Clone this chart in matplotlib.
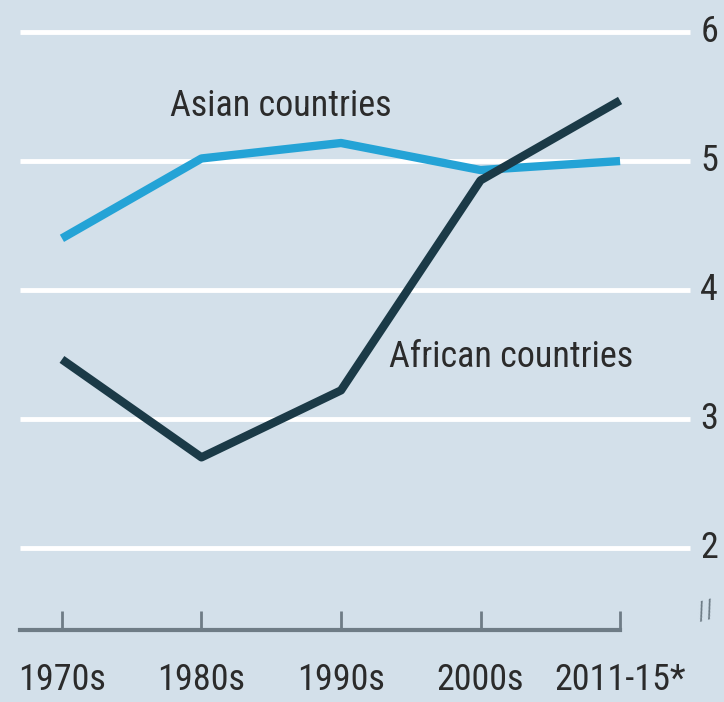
import matplotlib
matplotlib.use("Agg")
import matplotlib.pyplot as plt
import numpy as np

# Values
periods = ["1970s", "1980s", "1990s", "2000s", "2011-15*"]
asian = [4.40, 5.02, 5.14, 4.93, 5.00]
african = [3.46, 2.70, 3.22, 4.85, 5.47]
y_ticks = [2, 3, 4, 5, 6]

BG = "#d3e0ea"
ASIAN_C = "#24a3d6"
AFRICA_C = "#1b3a47"
TEXT_C = "#2b2b2b"
AXIS_C = "#6e7c86"
FONT = ["Roboto Condensed", "DejaVu Sans"]

plt.rcParams["font.family"] = FONT

fig = plt.figure(figsize=(7.24, 7.02), dpi=100, facecolor=BG)
ax = fig.add_axes([0, 0.1026, 1, 0.8974])
ax.set_facecolor(BG)

x = np.arange(len(periods))
ax.set_xlim(-0.444, 4.745)
ax.set_ylim(1.36, 6.25)

# white gridlines + right-hand labels
ax.hlines(y_ticks, -0.30, 4.50, color="white", linewidth=3.5, zorder=1)
for v in y_ticks:
    ax.text(4.64, v, str(v), ha="center", va="center", fontsize=26,
            color=TEXT_C)

ax.plot(x, asian, color=ASIAN_C, linewidth=6, solid_capstyle="butt", zorder=3)
ax.plot(x, african, color=AFRICA_C, linewidth=6, solid_capstyle="butt", zorder=4)

ax.text(1.57, 5.43, "Asian countries", ha="center", va="center",
        fontsize=26, color=TEXT_C)
ax.text(3.22, 3.48, "African countries", ha="center", va="center",
        fontsize=26, color=TEXT_C)

# bottom axis with inward ticks
for s in ["top", "left", "right"]:
    ax.spines[s].set_visible(False)
ax.spines["bottom"].set_bounds(-0.30, 4.0)
ax.spines["bottom"].set_color(AXIS_C)
ax.spines["bottom"].set_linewidth(3)
ax.set_yticks([])
ax.set_xticks(x)
ax.set_xticklabels(periods, fontsize=26, color=TEXT_C)
ax.tick_params(axis="x", direction="in", length=14, width=2,
               color=AXIS_C, pad=23)

# axis break mark
ax.text(4.62, 1.50, "//", ha="center", va="center", fontsize=18,
        color=AXIS_C, rotation=15)

fig.savefig("out.png", dpi=100, facecolor=BG)
